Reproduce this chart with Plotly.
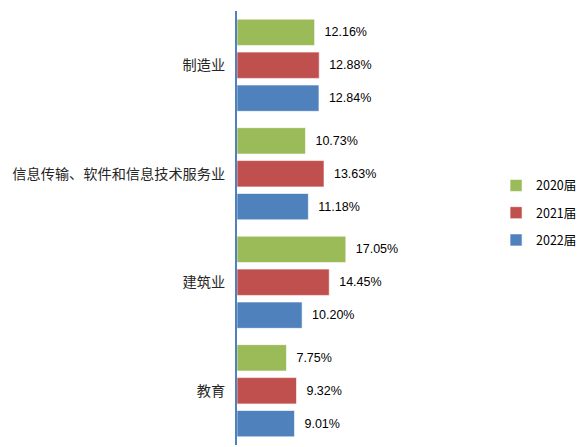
import plotly.graph_objs as go

# data
categories = ['制造业', '信息传输、软件和信息技术服务业', '建筑业', '教育']
years = ['2020届', '2021届', '2022届']
values_2020 = [12.16, 10.73, 17.05, 7.75]
values_2021 = [12.88, 13.63, 14.45, 9.32]
values_2022 = [12.84, 11.18, 10.20, 9.01]

colors = ['#9BBB59', '#C0504D', '#4F81BD']
series = [values_2020, values_2021, values_2022]

traces = []
for name, vals, color in zip(years, series, colors):
    traces.append(go.Bar(
        x=vals,
        y=categories,
        orientation='h',
        name=name,
        legendgroup=name,
        marker=dict(color=color, line=dict(color='rgba(255,255,255,0.6)', width=1)),
        text=['\u00a0\u00a0' + '%.2f%%' % v for v in vals],
        textposition='outside',
        textfont=dict(family='Liberation Sans, Arial', size=12.5, color='#000000'),
        cliponaxis=False,
    ))

# page body has an 8px margin, so the figure is shifted by 8px
layout = go.Layout(
    width=578,
    height=439,
    margin=dict(l=229, r=86, t=3, b=2),
    paper_bgcolor='white',
    plot_bgcolor='white',
    barmode='group',
    bargap=0.09,
    bargroupgap=0.2,
    font=dict(family='Noto Sans CJK SC', size=14, color='#262626'),
    xaxis=dict(range=[0, 41.2], showgrid=False, zeroline=False,
               showticklabels=False, showline=False, automargin=False),
    yaxis=dict(autorange='reversed', showline=True, linecolor='#4F81BD',
               linewidth=2, ticks='', ticklabelstandoff=7, showgrid=False,
               automargin=False,
               tickfont=dict(size=14.2, color='#262626')),
    legend=dict(x=0.985, y=0.535, xanchor='left', yanchor='middle',
                font=dict(size=12.5, color='#000000'), itemwidth=30,
                tracegroupgap=8),
    showlegend=True,
)

fig = go.Figure(data=traces, layout=layout)
fig.write_html("out.html")
